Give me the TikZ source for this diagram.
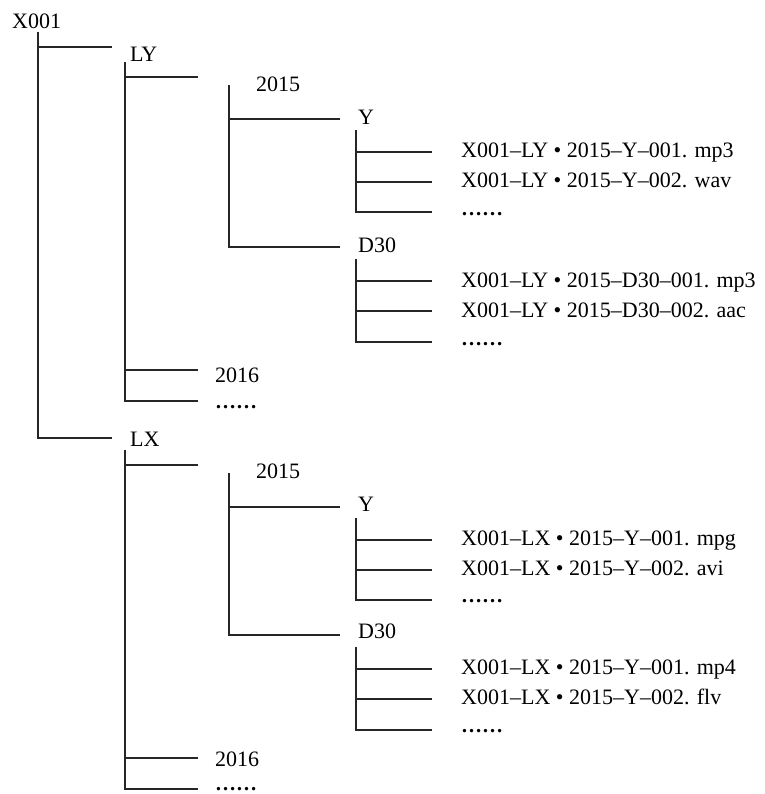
\documentclass[tikz,border=0pt]{standalone}
\usepackage{fontspec}
\setmainfont{Liberation Serif}
\begin{document}
\begin{tikzpicture}[x=1pt,y=-1pt,
  tree/.style={line width=1.1pt, draw=black!85},
  lbl/.style={anchor=base west, inner sep=0pt, font=\fontsize{22}{26}\selectfont},
  dots/.style={lbl, font=\fontsize{21}{26}\selectfont\bfseries}]
\useasboundingbox (0,0) rectangle (764,794);
% root
\node[lbl] (root) at (12,29) {X001};
\coordinate (rt) at (38,32);
\coordinate (rb) at (38,438);
\coordinate (r1) at (38,47);
\coordinate (r1e) at (112,47);
\coordinate (r2e) at (112,438);
\draw[tree] (rt) -- (rb) -- (r2e);
\draw[tree] (r1) -- (r1e);

% ---------- LY section ----------
\node[lbl] (aL) at (130,62) {LY};
\coordinate (av1) at (125,62); \coordinate (av2) at (125,401);
\coordinate (ah1) at (198,77); \coordinate (ah2) at (198,370); \coordinate (ah3) at (198,401);
\draw[tree] (av1) -- (av2) -- (ah3);
\draw[tree] (av1 |- ah1) -- (ah1);
\draw[tree] (av1 |- ah2) -- (ah2);
\node[lbl] (a2015) at (256,92) {2015};
\coordinate (abv1) at (229,85); \coordinate (abv2) at (229,247);
\coordinate (abh1) at (340,119); \coordinate (abh2) at (340,247);
\draw[tree] (abv1) -- (abv2) -- (abh2);
\draw[tree] (abv1 |- abh1) -- (abh1);
\node[lbl] (aY) at (358,125) {Y};
\node[lbl] (aD) at (358,252) {D30};
% Y files
\coordinate (acv1) at (356,130); \coordinate (acv2) at (356,212);
\coordinate (ach1) at (432,152); \coordinate (ach2) at (432,182); \coordinate (ach3) at (432,212);
\draw[tree] (acv1) -- (acv2) -- (ach3);
\draw[tree] (acv1 |- ach1) -- (ach1);
\draw[tree] (acv1 |- ach2) -- (ach2);
\node[lbl] (af1) at (461,158) {X001–LY • 2015–Y–001. mp3};
\node[lbl] (af2) at (461,188) {X001–LY • 2015–Y–002. wav};
\node[dots] (af3) at (461,215) {……};
% D30 files
\coordinate (adv1) at (356,259); \coordinate (adv2) at (356,342);
\coordinate (adh1) at (432,281); \coordinate (adh2) at (432,311); \coordinate (adh3) at (432,342);
\draw[tree] (adv1) -- (adv2) -- (adh3);
\draw[tree] (adv1 |- adh1) -- (adh1);
\draw[tree] (adv1 |- adh2) -- (adh2);
\node[lbl] (ag1) at (461,287) {X001–LY • 2015–D30–001. mp3};
\node[lbl] (ag2) at (461,317) {X001–LY • 2015–D30–002. aac};
\node[dots] (ag3) at (461,345) {……};
\node[lbl] (a2016) at (215,382) {2016};
\node[dots] (adots) at (215,408) {……};

% ---------- LX section ----------
\begin{scope}[yshift=-388pt]
\node[lbl] (bL) at (130,58) {LX};
\coordinate (bv1) at (125,62); \coordinate (bv2) at (125,401);
\coordinate (bh1) at (198,77); \coordinate (bh2) at (198,370); \coordinate (bh3) at (198,401);
\draw[tree] (bv1) -- (bv2) -- (bh3);
\draw[tree] (bv1 |- bh1) -- (bh1);
\draw[tree] (bv1 |- bh2) -- (bh2);
\node[lbl] (b2015) at (256,90) {2015};
\coordinate (bbv1) at (229,85); \coordinate (bbv2) at (229,247);
\coordinate (bbh1) at (340,119); \coordinate (bbh2) at (340,247);
\draw[tree] (bbv1) -- (bbv2) -- (bbh2);
\draw[tree] (bbv1 |- bbh1) -- (bbh1);
\node[lbl] (bY) at (358,123) {Y};
\node[lbl] (bD) at (358,250) {D30};
\coordinate (bcv1) at (356,130); \coordinate (bcv2) at (356,212);
\coordinate (bch1) at (432,152); \coordinate (bch2) at (432,182); \coordinate (bch3) at (432,212);
\draw[tree] (bcv1) -- (bcv2) -- (bch3);
\draw[tree] (bcv1 |- bch1) -- (bch1);
\draw[tree] (bcv1 |- bch2) -- (bch2);
\node[lbl] (bf1) at (461,157) {X001–LX • 2015–Y–001. mpg};
\node[lbl] (bf2) at (461,187) {X001–LX • 2015–Y–002. avi};
\node[dots] (bf3) at (461,214) {……};
\coordinate (bdv1) at (356,259); \coordinate (bdv2) at (356,342);
\coordinate (bdh1) at (432,281); \coordinate (bdh2) at (432,311); \coordinate (bdh3) at (432,342);
\draw[tree] (bdv1) -- (bdv2) -- (bdh3);
\draw[tree] (bdv1 |- bdh1) -- (bdh1);
\draw[tree] (bdv1 |- bdh2) -- (bdh2);
\node[lbl] (bg1) at (461,286) {X001–LX • 2015–Y–001. mp4};
\node[lbl] (bg2) at (461,316) {X001–LX • 2015–Y–002. flv};
\node[dots] (bg3) at (461,344) {……};
\node[lbl] (b2016) at (215,378) {2016};
\node[dots] (bdots) at (215,402) {……};
\end{scope}
\end{tikzpicture}
\end{document}
